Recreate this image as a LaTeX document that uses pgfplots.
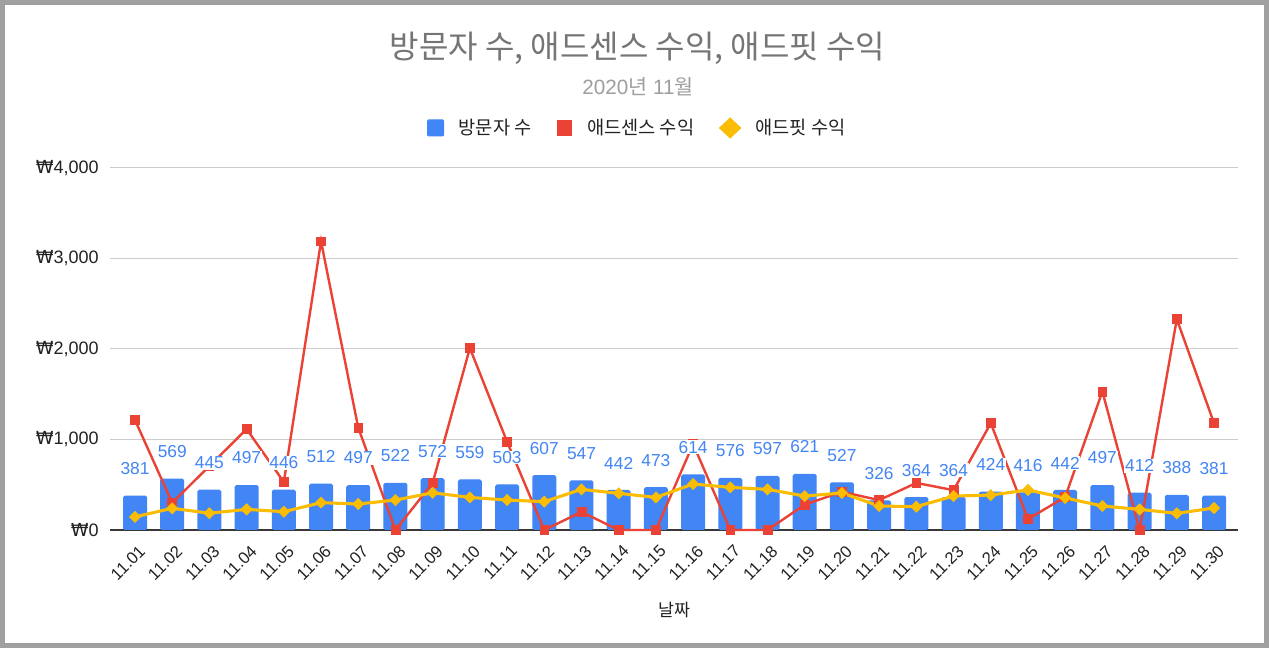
\documentclass[border=0pt]{standalone}
\usepackage{fontspec}
\setmainfont{Liberation Sans}
\newfontfamily\kr{Noto Sans CJK KR}
\newfontfamily\dv{DejaVu Sans}
\usepackage{pgfplots}
\usepackage{pgfplotstable}
\pgfplotsset{compat=1.18}
\definecolor{bblue}{HTML}{4285F4}
\definecolor{rred}{HTML}{EA4335}
\definecolor{yyel}{HTML}{FBBC04}
\definecolor{ttl}{HTML}{757575}
\definecolor{subt}{HTML}{9E9E9E}
\definecolor{txt}{HTML}{222222}
\definecolor{frm}{HTML}{A0A0A0}
\definecolor{grd}{HTML}{CCCCCC}

\pgfplotstableread{
i v a f
0 381 1215 145
1 569 300 240
2 445 707 185
3 497 1115 228
4 446 530 202
5 512 3190 302
6 497 1130 287
7 522 0 331
8 572 520 411
9 559 2010 360
10 503 975 331
11 607 0 313
12 547 200 449
13 442 0 405
14 473 0 360
15 614 950 508
16 576 0 471
17 597 0 449
18 621 280 375
19 527 422 409
20 326 330 265
21 364 520 258
22 364 440 375
23 424 1180 386
24 416 120 442
25 442 365 354
26 497 1530 265
27 412 0 228
28 388 2330 184
29 381 1180 243
}\data

\begin{document}
\begin{tikzpicture}
\fill[frm] (0,0) rectangle (951.75pt,486pt);
\fill[white] (3.75pt,3.75pt) rectangle (948pt,482.25pt);
\node[font=\kr\fontsize{24}{28}\selectfont, text=ttl] at (478.1pt,449.6pt) {방문자 수, 애드센스 수익, 애드핏 수익};
\node[font=\fontsize{15.5}{18}\selectfont, text=subt] at (478.5pt,421.1pt) {2020{\kr 년} 11{\kr 월}};
\begin{axis}[
  at={(82.5pt,88.5pt)}, anchor=south west,
  scale only axis, width=846pt, height=271.5pt,
  xmin=-0.672, xmax=29.645, ymin=0, ymax=4000,
  axis x line=bottom, axis y line=left,
  x axis line style={-, draw=txt!90, line width=1.1pt},
  y axis line style={draw=none},
  major tick length=0pt,
  /pgf/number format/assume math mode=true,
  xtick={0,...,29},
  xticklabels={11.01,11.02,11.03,11.04,11.05,11.06,11.07,11.08,11.09,11.10,11.11,11.12,11.13,11.14,11.15,11.16,11.17,11.18,11.19,11.20,11.21,11.22,11.23,11.24,11.25,11.26,11.27,11.28,11.29,11.30},
  ytick={0,1000,2000,3000,4000},
  yticklabels={{{\dv ₩}0},{{\dv ₩}1,000},{{\dv ₩}2,000},{{\dv ₩}3,000},{{\dv ₩}4,000}},
  ymajorgrids, grid style={draw=grd, line width=0.75pt},
  tick label style={font=\fontsize{12.5}{15}\selectfont, text=txt},
  yticklabel style={anchor=east, inner sep=0pt, xshift=-8.25pt, font=\fontsize{13.5}{15}\selectfont},
  xticklabel style={rotate=45, anchor=north east, inner sep=0pt, xshift=-5.8pt, yshift=-9pt},
  xlabel={날짜},
  xlabel style={at={(axis description cs:0.5,-0.221)}, anchor=center, font=\kr\fontsize{13}{15}\selectfont, text=txt},
  clip=false,
  legend style={at={(0.4677,1.1105)}, anchor=center, draw=none, fill=none, inner sep=0pt,
    font=\kr\fontsize{14}{16}\selectfont, text=txt,
    /tikz/every odd column/.append style={column sep=9pt},
    /tikz/every even column/.append style={column sep=17pt}},
  legend columns=-1,
]
\addplot[ybar, bar width=18pt, fill=bblue, draw=none, rounded corners=1.3pt,
  legend image code/.code={\fill[bblue, rounded corners=1pt] (0pt,-6.375pt) rectangle (12.75pt,6.375pt);}]
  table[x=i,y=v]{\data};
\addlegendentry{방문자 수}
\addplot[rred, line width=1.8pt, mark=square*, mark size=3.3pt, mark options={solid, line width=0.5pt},
  legend image code/.code={\fill[rred] (0pt,-4.875pt) rectangle (9.75pt,4.875pt);}]
  table[x=i,y=a]{\data};
\addlegendentry{애드센스 수익}
\addplot[yyel, line width=2.3pt, mark=square*, mark size=2.95pt, mark options={solid, rotate=45, line width=0.5pt},
  legend image code/.code={\fill[yyel] (0pt,0pt) -- (6.75pt,6.375pt) -- (13.5pt,0pt) -- (6.75pt,-6.375pt) -- cycle;}]
  table[x=i,y=f]{\data};
\addlegendentry{애드핏 수익}
\addplot[draw=none, forget plot, point meta=y, nodes near coords,
  every node near coord/.append style={anchor=center, yshift=20.25pt, font=\fontsize{13}{15}\selectfont, text=bblue, fill=white, inner sep=0.6pt}]
  table[x=i,y=v]{\data};
\end{axis}
\pgfresetboundingbox
\useasboundingbox (0,0) rectangle (951.75pt,486pt);
\end{tikzpicture}
\end{document}
